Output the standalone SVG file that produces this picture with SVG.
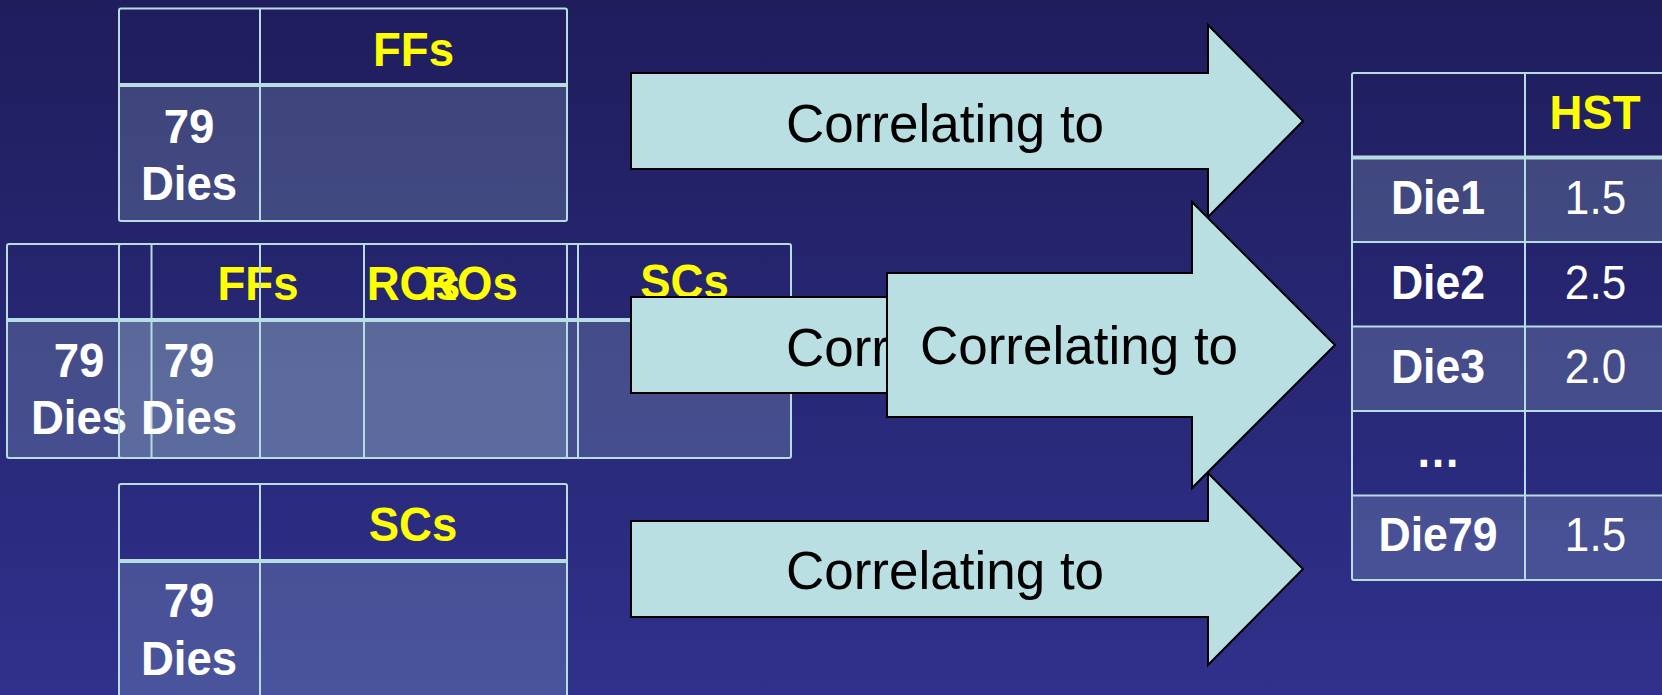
<svg xmlns="http://www.w3.org/2000/svg" width="1662" height="695" viewBox="0 0 1662 695">
<defs>
<linearGradient id="bg" x1="0" y1="0" x2="0" y2="1">
<stop offset="0" stop-color="#1f1d5c"/>
<stop offset="1" stop-color="#2f318c"/>
</linearGradient>
<style>
.grid{fill:none;stroke:#b5dde2;stroke-width:2}
.ln{stroke:#b5dde2;stroke-width:2}
.sep{stroke:#b5dde2;stroke-width:4}
.band{fill:#b8dfe3;fill-opacity:0.2;stroke:none}
.hd{font-family:"Liberation Sans",Arial,sans-serif;font-weight:bold;font-size:49px;fill:#ffff00;text-anchor:middle}
.lb{font-family:"Liberation Sans",Arial,sans-serif;font-weight:bold;font-size:49px;fill:#ffffff;text-anchor:middle}
.val{font-family:"Liberation Sans",Arial,sans-serif;font-size:49px;fill:#ffffff;text-anchor:middle}
.arrow{fill:#b9dfe2;stroke:#000000;stroke-width:2;stroke-linejoin:miter}
.at{font-family:"Liberation Sans",Arial,sans-serif;font-size:53px;fill:#000000;text-anchor:middle}
</style>
</defs>
<rect x="0" y="0" width="1662" height="695" fill="url(#bg)"/>

<g id="table-ffs">
<rect class="band" x="119" y="85" width="448" height="136"/>
<rect class="grid" x="119" y="8.5" width="448" height="212.5" rx="2"/>
<line class="ln" x1="260" y1="8.5" x2="260" y2="221"/>
<line class="sep" x1="119" y1="85" x2="567" y2="85"/>
<text class="hd" transform="translate(413.5,66) scale(0.93,1)">FFs</text>
<text class="lb" transform="translate(189,143) scale(0.93,1)">79</text>
<text class="lb" transform="translate(189,200) scale(0.93,1)">Dies</text>
</g>

<g id="table-combined">
<rect class="band" x="7" y="320" width="784" height="138"/>
<rect class="grid" x="7" y="244" width="784" height="214" rx="2"/>
<line class="ln" x1="151.5" y1="244" x2="151.5" y2="458"/>
<line class="ln" x1="364" y1="244" x2="364" y2="458"/>
<line class="ln" x1="578" y1="244" x2="578" y2="458"/>
<line class="sep" x1="7" y1="320" x2="791" y2="320"/>
<text class="hd" transform="translate(258,300) scale(0.93,1)">FFs</text>
<text class="hd" transform="translate(471,300) scale(0.93,1)">ROs</text>
<text class="hd" transform="translate(684.5,298) scale(0.93,1)">SCs</text>
<text class="lb" transform="translate(79,377) scale(0.93,1)">79</text>
<text class="lb" transform="translate(79,434) scale(0.93,1)">Dies</text>
</g>

<g id="table-ros">
<rect class="band" x="119" y="320" width="448" height="138"/>
<rect class="grid" x="119" y="244" width="448" height="214" rx="2"/>
<line class="ln" x1="260" y1="244" x2="260" y2="458"/>
<line class="sep" x1="119" y1="320" x2="567" y2="320"/>
<text class="hd" transform="translate(413.5,300) scale(0.93,1)">ROs</text>
<text class="lb" transform="translate(189,377) scale(0.93,1)">79</text>
<text class="lb" transform="translate(189,434) scale(0.93,1)">Dies</text>
</g>

<g id="table-scs">
<rect class="band" x="119" y="561" width="448" height="140"/>
<rect class="grid" x="119" y="484" width="448" height="220" rx="2"/>
<line class="ln" x1="260" y1="484" x2="260" y2="704"/>
<line class="sep" x1="119" y1="561" x2="567" y2="561"/>
<text class="hd" transform="translate(413,541) scale(0.93,1)">SCs</text>
<text class="lb" transform="translate(189,617) scale(0.93,1)">79</text>
<text class="lb" transform="translate(189,675) scale(0.93,1)">Dies</text>
</g>

<g id="table-hst">
<rect class="band" x="1352" y="157.5" width="320" height="84.5"/>
<rect class="band" x="1352" y="326.5" width="320" height="84.5"/>
<rect class="band" x="1352" y="495.5" width="320" height="84.5"/>
<rect class="grid" x="1352" y="73" width="330" height="507" rx="2"/>
<line class="ln" x1="1525" y1="73" x2="1525" y2="580"/>
<line class="sep" x1="1352" y1="157.5" x2="1662" y2="157.5"/>
<line class="ln" x1="1352" y1="242" x2="1662" y2="242"/>
<line class="ln" x1="1352" y1="326.5" x2="1662" y2="326.5"/>
<line class="ln" x1="1352" y1="411" x2="1662" y2="411"/>
<line class="ln" x1="1352" y1="495.5" x2="1662" y2="495.5"/>
<text class="hd" transform="translate(1595,129) scale(0.93,1)">HST</text>
<text class="lb" transform="translate(1438,214) scale(0.91,1)">Die1</text>
<text class="val" transform="translate(1595.5,214) scale(0.9,1)">1.5</text>
<text class="lb" transform="translate(1438,298.5) scale(0.91,1)">Die2</text>
<text class="val" transform="translate(1595.5,298.5) scale(0.9,1)">2.5</text>
<text class="lb" transform="translate(1438,383) scale(0.91,1)">Die3</text>
<text class="val" transform="translate(1595.5,383) scale(0.9,1)">2.0</text>
<text class="lb" transform="translate(1438,467) scale(0.91,1)">…</text>
<text class="lb" transform="translate(1438,551) scale(0.91,1)">Die79</text>
<text class="val" transform="translate(1595.5,551) scale(0.9,1)">1.5</text>
</g>

<g id="connectors">
<g id="arrow-1">
<path class="arrow" d="M631,73 H1208 V25 L1303,121 L1208,217 V169 H631 Z"/>
<text class="at" x="945" y="142">Correlating to</text>
</g>
<g id="arrow-3">
<path class="arrow" d="M631,521 H1208 V473 L1303,569 L1208,665 V617 H631 Z"/>
<text class="at" x="945" y="589">Correlating to</text>
</g>
<g id="arrow-2a">
<path class="arrow" d="M631,297 H1208 V249 L1303,345 L1208,441 V393 H631 Z"/>
<text class="at" x="945" y="366">Correlating to</text>
</g>
<g id="arrow-2b">
<path class="arrow" d="M887,273 H1192 V202 L1335,345 L1192,488 V417 H887 Z"/>
<text class="at" x="1079" y="364">Correlating to</text>
</g>
</g>
</svg>
